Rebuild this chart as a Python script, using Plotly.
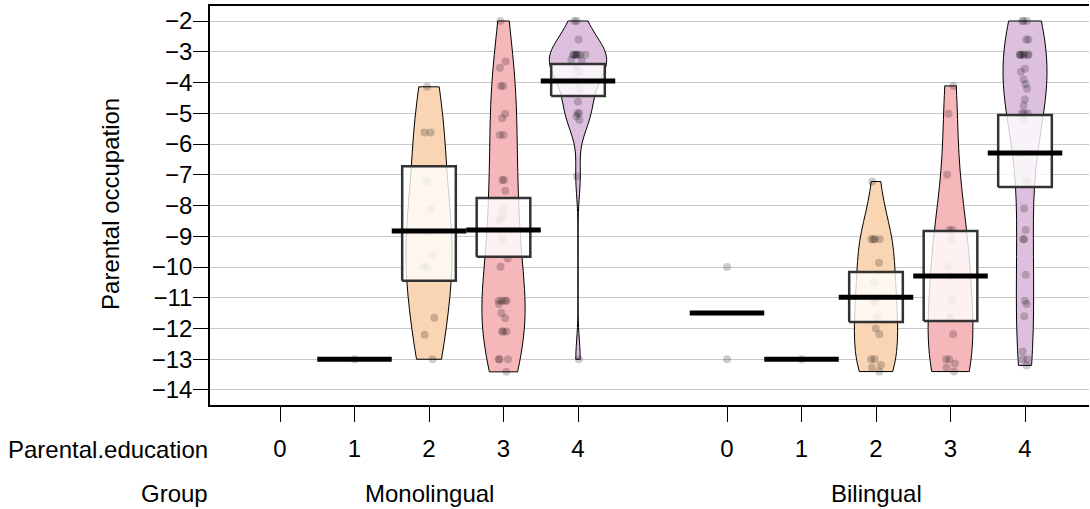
import numpy as np
import plotly.graph_objects as go

# ---------------- data ----------------
edu_levels = ["0", "1", "2", "3", "4"]
group_names = ["Monolingual", "Bilingual"]

occ_mono_0 = []
occ_mono_1 = [-13.0]
occ_mono_2 = [-4.14, -5.63, -5.63, -7.22, -8.12, -8.85, -9.61, -10.0, -10.0, -11.65, -12.2, -13.0]
occ_mono_3 = [-2.0, -3.32, -3.52, -4.11, -4.11, -5.02, -5.16, -5.71, -5.71, -7.17, -7.17,
              -7.52, -8.11, -8.34, -8.49, -9.10, -9.72, -9.99, -11.1, -11.1, -11.1, -11.1,
              -11.2, -11.5, -11.67, -12.1, -12.1, -12.1, -13.0, -13.0, -13.0, -13.41]
occ_mono_4 = [-2.0, -2.0, -2.6, -3.1, -3.1, -3.1, -3.1, -3.1, -3.1, -3.1, -3.25,
              -3.3, -3.5, -3.65, -3.9, -3.95, -4.2, -4.62, -5.0, -5.0, -5.1, -5.22, -7.06, -13.0]

occ_bi_0 = [-10.0, -13.0]
occ_bi_1 = [-13.0]
occ_bi_2 = [-7.22, -9.1, -9.1, -9.1, -9.1, -9.86, -10.5, -11.0, -11.0, -11.13, -11.65,
            -12.0, -12.19, -13.0, -13.0, -13.19, -13.27, -13.4]
occ_bi_3 = [-4.11, -5.02, -7.0, -8.8, -8.8, -9.1, -9.99, -10.3, -11.1, -11.65, -12.19,
            -13.0, -13.0, -13.14, -13.27, -13.4]
occ_bi_4 = [-2.0, -2.0, -2.0, -2.6, -2.6, -3.1, -3.1, -3.1, -3.1, -3.1, -3.1, -3.1, -3.55,
            -3.65, -3.9, -4.05, -4.2, -4.55, -4.75, -5.0, -5.0, -5.0, -5.2, -6.3, -7.2,
            -8.1, -8.8, -9.1, -9.1, -10.25, -11.1, -11.2, -11.6, -12.75, -13.0, -13.0, -13.2]

# means and inference bands
mean_mono = [None, -13.0, -8.83, -8.80, -3.95]
mean_bi = [-11.5, -13.0, -10.98, -10.29, -6.29]
band_lo_mono = [None, None, -10.45, -9.67, -4.44]
band_hi_mono = [None, None, -6.72, -7.76, -3.40]
band_lo_bi = [None, None, -11.79, -11.76, -7.40]
band_hi_bi = [None, None, -10.16, -8.83, -5.06]

tick_vals_y = list(range(-2, -15, -1))

# ---------------- styles ----------------
FONT = "Liberation Sans, Arial, sans-serif"
FS = 24
bean_colors = {"0": "#BFD7EA", "1": "#C9E4C5", "2": "#F9D5B4", "3": "#F6B7BA", "4": "#DCC0DE"}
bean_widths = {("Monolingual", "2"): 0.62, ("Monolingual", "3"): 0.58, ("Monolingual", "4"): 0.77,
               ("Bilingual", "2"): 0.58, ("Bilingual", "3"): 0.60, ("Bilingual", "4"): 0.59}
BW_ADJUST = 1.1
POINT_COLOR = "rgba(0,0,0,0.2)"
BAND_HALF = 0.36
MEAN_HALF = 0.5

group_data = {
    "Monolingual": [occ_mono_0, occ_mono_1, occ_mono_2, occ_mono_3, occ_mono_4],
    "Bilingual": [occ_bi_0, occ_bi_1, occ_bi_2, occ_bi_3, occ_bi_4],
}
group_means = {"Monolingual": mean_mono, "Bilingual": mean_bi}
group_lo = {"Monolingual": band_lo_mono, "Bilingual": band_lo_bi}
group_hi = {"Monolingual": band_hi_mono, "Bilingual": band_hi_bi}


def nrd0(v):
    v = np.asarray(v, dtype=float)
    sd = v.std(ddof=1)
    q75, q25 = np.percentile(v, [75, 25])
    lo = min(sd, (q75 - q25) / 1.34)
    if lo <= 0:
        lo = sd if sd > 0 else 1.0
    return 0.9 * lo * len(v) ** -0.2


fig = go.Figure()

positions = {}
pos = 1
for g in group_names:
    positions[g] = []
    for lev in edu_levels:
        positions[g].append(pos)
        pos += 1
    pos += 1

# beans + points
for g in group_names:
    for i, lev in enumerate(edu_levels):
        vals = group_data[g][i]
        p = positions[g][i]
        if len(vals) == 0:
            continue
        if len(vals) >= 3 and np.std(vals) > 0:
            fig.add_trace(go.Violin(
                x=[p] * len(vals), y=vals, width=bean_widths[(g, lev)],
                spanmode="hard", bandwidth=nrd0(vals) * BW_ADJUST, scalemode="width",
                fillcolor=bean_colors[lev], line=dict(color="black", width=1),
                points="all", pointpos=0, jitter=0.3,
                marker=dict(color=POINT_COLOR, size=8, line=dict(width=0)),
                box_visible=False, meanline_visible=False, showlegend=False,
                hoveron="points"))
        else:
            fig.add_trace(go.Scatter(
                x=[p] * len(vals), y=vals, mode="markers",
                marker=dict(color=POINT_COLOR, size=8, line=dict(width=0)),
                showlegend=False))

# inference bands
for g in group_names:
    for i, lev in enumerate(edu_levels):
        lo, hi = group_lo[g][i], group_hi[g][i]
        if lo is None:
            continue
        p = positions[g][i]
        fig.add_trace(go.Scatter(
            x=[p - BAND_HALF, p + BAND_HALF, p + BAND_HALF, p - BAND_HALF, p - BAND_HALF],
            y=[lo, lo, hi, hi, lo], mode="lines", fill="toself",
            fillcolor="rgba(255,255,255,0.8)", line=dict(color="#333333", width=2.5),
            showlegend=False, hoverinfo="skip"))

# means
for g in group_names:
    for i, lev in enumerate(edu_levels):
        m = group_means[g][i]
        if m is None:
            continue
        p = positions[g][i]
        fig.add_trace(go.Scatter(
            x=[p - MEAN_HALF, p + MEAN_HALF], y=[m, m], mode="lines",
            line=dict(color="black", width=5), showlegend=False, hoverinfo="skip"))

all_pos = positions["Monolingual"] + positions["Bilingual"]
fig.update_layout(
    width=1090, height=509,
    margin=dict(l=210, r=1, t=6, b=104),
    paper_bgcolor="white", plot_bgcolor="white",
    violinmode="overlay",
    font=dict(family=FONT, size=FS, color="black"),
    xaxis=dict(range=[0.0604, 11.859], tickvals=all_pos, ticktext=edu_levels * 2,
               ticks="outside", ticklen=15, tickwidth=1, tickcolor="black",
               showline=True, mirror=True, linecolor="black", linewidth=1.5,
               showgrid=False, zeroline=False, ticklabelstandoff=6,
               tickfont=dict(family=FONT, size=FS, color="black")),
    yaxis=dict(range=[-14.488, -1.512], tickvals=tick_vals_y,
               ticktext=[str(v).replace("-", "\u2212") for v in tick_vals_y],
               ticks="outside", ticklen=15, tickwidth=1, tickcolor="black",
               showline=True, linecolor="black", linewidth=1.5,
               showgrid=True, gridcolor="rgb(200,200,200)", gridwidth=1,
               zeroline=False, ticklabelstandoff=-4,
               tickfont=dict(family=FONT, size=FS, color="black")),
)

ann = dict(showarrow=False, font=dict(family=FONT, size=FS, color="black"))
fig.add_annotation(text="Parental.education", xref="paper", yref="paper",
                   x=0.0, y=-0.1103, xanchor="right", yanchor="middle", **ann)
fig.add_annotation(text="Group", xref="paper", yref="paper",
                   x=0.0, y=-0.2206, xanchor="right", yanchor="middle", **ann)
for g in group_names:
    fig.add_annotation(text=g, xref="x", yref="paper", x=positions[g][2], y=-0.2206,
                       xanchor="center", yanchor="middle", **ann)
fig.add_annotation(text="Parental occupation", xref="paper", yref="paper",
                   x=-0.1126, y=0.504, textangle=-90, xanchor="center", yanchor="middle", **ann)

fig.write_html("out.html", config={"displayModeBar": False},
               post_script="document.body.style.margin='0';document.body.style.overflow='hidden';")
